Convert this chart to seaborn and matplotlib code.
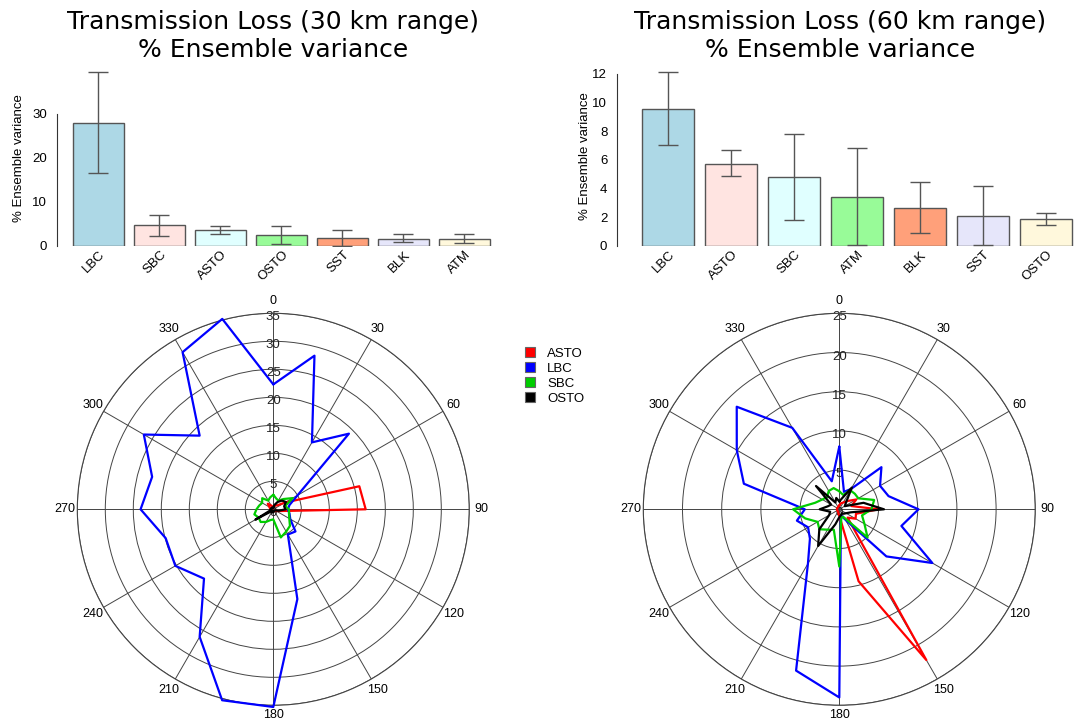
import numpy as np
import pandas as pd
import matplotlib
matplotlib.use("Agg")
import matplotlib.pyplot as plt
import matplotlib.transforms as mtransforms
from matplotlib.patches import Patch
import seaborn as sns

# ---------------- data ----------------
VARS30 = ['LBC', 'SBC', 'ASTO', 'OSTO', 'SST', 'BLK', 'ATM']
VAL30 = [28.0, 4.75, 3.55, 2.4, 1.75, 1.6, 1.5]
LO30 = [16.6, 2.2, 2.7, 0.4, 0.0, 0.8, 0.6]
HI30 = [39.5, 7.1, 4.6, 4.6, 3.55, 2.7, 2.7]

VARS60 = ['LBC', 'ASTO', 'SBC', 'ATM', 'BLK', 'SST', 'OSTO']
VAL60 = [9.56, 5.72, 4.77, 3.42, 2.65, 2.09, 1.86]
LO60 = [7.0, 4.88, 1.79, 0.05, 0.86, 0.05, 1.47]
HI60 = [12.1, 6.65, 7.77, 6.79, 4.44, 4.16, 2.28]

BAR_COLORS = ['lightblue', 'mistyrose', 'lightcyan', 'palegreen',
              'lightsalmon', 'lavender', 'cornsilk']

ANGLES = [0, 15, 30, 45, 60, 75, 90, 105, 120, 135, 150, 165,
          180, 195, 210, 225, 240, 255, 270, 285, 300, 315, 330, 345]

# 30 km range
ASTO30 = [0.4, 0.6, 0.8, 1.0, 2.4, 15.9, 16.5, 1.2, 0.6, 0.4, 0.3, 0.4,
          0.3, 0.3, 0.4, 0.5, 0.5, 0.4, 0.5, 0.6, 0.8, 1.4, 0.8, 0.5]
LBC30 = [22.3, 28.4, 13.8, 19.1, 5.0, 3.0, 2.6, 3.0, 3.5, 5.6, 5.2, 16.6,
         35.3, 35.3, 26.3, 17.5, 20.2, 19.9, 23.7, 22.4, 26.7, 18.6, 32.4, 35.2]
SBC30 = [2.6, 2.0, 1.8, 2.6, 4.0, 2.2, 2.8, 2.9, 3.3, 4.2, 4.6, 5.2,
         1.8, 2.0, 2.6, 3.2, 3.0, 3.5, 3.0, 2.6, 2.3, 2.8, 1.8, 2.2]
OSTO30 = [0.3, 0.8, 1.5, 2.2, 2.6, 2.0, 2.2, 1.0, 0.4, 0.3, 0.3, 0.4,
          0.5, 0.6, 0.3, 0.5, 3.7, 0.4, 0.5, 0.4, 0.3, 0.4, 0.3, 0.3]

# 60 km range
ASTO60 = [0.5, 0.8, 1.0, 1.5, 2.5, 1.6, 5.0, 2.2, 2.4, 1.5, 22.2, 9.5,
          0.8, 0.5, 0.3, 0.3, 0.3, 0.3, 0.3, 0.3, 0.3, 0.3, 0.3, 0.4]
LBC60 = [8.0, 2.3, 3.0, 7.6, 6.0, 6.5, 10.1, 8.2, 13.7, 8.5, 1.5, 0.8,
         24.0, 21.3, 8.0, 5.3, 4.6, 5.6, 4.4, 12.6, 15.1, 18.5, 12.0, 3.7]
SBC60 = [2.3, 1.9, 2.8, 2.8, 2.8, 4.6, 4.1, 3.0, 3.7, 5.1, 1.2, 1.0,
         7.3, 2.7, 3.0, 3.6, 3.2, 4.5, 5.9, 3.2, 2.5, 2.2, 2.7, 2.8]
OSTO60 = [1.0, 1.5, 3.2, 1.2, 0.8, 3.2, 5.7, 1.5, 1.0, 0.8, 0.6, 0.8,
          1.0, 2.0, 5.4, 3.6, 1.5, 1.2, 2.5, 1.5, 1.2, 4.2, 1.0, 1.5]

SERIES_NAMES = ['ASTO', 'LBC', 'SBC', 'OSTO']
SERIES_COLORS = ['#FF0000', '#0000FF', '#00CD00', '#000000']

# ---------------- style ----------------
sns.set_style("white")
plt.rcParams['font.family'] = ['Liberation Sans', 'DejaVu Sans']
for k in ['text.color', 'axes.labelcolor', 'xtick.color', 'ytick.color']:
    plt.rcParams[k] = 'black'

W, H = 1075, 719
fig = plt.figure(figsize=(W / 100, H / 100), dpi=100)


def px_axes(x0, y0, x1, y1, **kw):
    return fig.add_axes([x0 / W, 1 - y1 / H, (x1 - x0) / W, (y1 - y0) / H], **kw)


def bar_panel(ax, names, vals, lo, hi, xlim, ylim, yticks):
    df = pd.DataFrame({'var': names, 'val': vals})
    sns.barplot(data=df, x='var', y='val', hue='var', palette=BAR_COLORS,
                order=names, hue_order=names, width=0.83, saturation=1,
                edgecolor='#555555', linewidth=1.0, legend=False, ax=ax)
    v = np.asarray(vals)
    yerr = [v - np.asarray(lo), np.asarray(hi) - v]
    ax.errorbar(np.arange(len(names)), v, yerr=yerr, fmt='none',
                ecolor='#555555', elinewidth=1.0, capsize=7.5, capthick=1.0)
    ax.set_xlim(*xlim)
    ax.set_ylim(*ylim)
    ax.set_yticks(yticks)
    ax.set_yticklabels([str(t) for t in yticks], fontsize=9.5)
    for s in ['top', 'right', 'bottom']:
        ax.spines[s].set_visible(False)
    ax.spines['left'].set_bounds(yticks[0], yticks[-1])
    ax.spines['left'].set_color('#333333')
    ax.spines['left'].set_linewidth(0.8)
    ax.tick_params(axis='y', length=5, width=0.8, color='#333333', pad=2)
    ax.tick_params(axis='x', length=0, pad=2)
    offset = mtransforms.ScaledTranslation(9 / 100, 0, fig.dpi_scale_trans)
    for lab in ax.get_xticklabels():
        lab.set_rotation(45)
        lab.set_ha('right')
        lab.set_fontsize(9.5)
        lab.set_transform(lab.get_transform() + offset)
    ax.set_xlabel('')
    ax.set_ylabel('% Ensemble variance', fontsize=9.5)


# bar charts
ax1 = px_axes(57, 69.6, 501, 246)
bar_panel(ax1, VARS30, VAL30, LO30, HI30, (-0.679, 6.6), (0, 40), [0, 10, 20, 30])
ax1.yaxis.set_label_coords(-0.072, 0.5)

ax2 = px_axes(617, 66.5, 1074.3, 245.7)
bar_panel(ax2, VARS60, VAL60, LO60, HI60, (-0.808, 6.45), (0, 12.5),
          [0, 2, 4, 6, 8, 10, 12])
ax2.yaxis.set_label_coords(-0.057, 0.5)

# titles
fig.text(273 / W, 1 - 10 / H, 'Transmission Loss (30 km range)\n% Ensemble variance',
         ha='center', va='top', fontsize=18, family='DejaVu Sans', linespacing=1.2,
         color='black')
fig.text(840 / W, 1 - 10 / H, 'Transmission Loss (60 km range)\n% Ensemble variance',
         ha='center', va='top', fontsize=18, family='DejaVu Sans', linespacing=1.2,
         color='black')


def polar_panel(ax, series, rmax, rticks):
    ax.set_theta_zero_location('N')
    ax.set_theta_direction(-1)
    theta = np.deg2rad(np.append(ANGLES, ANGLES[0]))
    for name, col, vals in zip(SERIES_NAMES, SERIES_COLORS, series):
        r = np.append(vals, vals[0])
        df = pd.DataFrame({'theta': theta, 'r': r})
        sns.lineplot(data=df, x='theta', y='r', sort=False, estimator=None,
                     color=col, linewidth=1.6, ax=ax, zorder=3, clip_on=False)
    ax.set_ylim(0, rmax)
    ax.set_rticks(rticks)
    ax.set_yticklabels([])
    ax.set_thetagrids(list(range(0, 360, 30)),
                      [str(a) for a in range(0, 360, 30)], fontsize=9)
    ax.tick_params(axis='x', pad=-1.5)
    ax.grid(True, color='#444444', linewidth=0.7)
    ax.spines['polar'].set_color('#444444')
    ax.spines['polar'].set_linewidth(0.8)
    ax.set_xlabel('')
    ax.set_ylabel('')
    lift = mtransforms.ScaledTranslation(0, 3 / 100, fig.dpi_scale_trans)
    for lab in ax.get_xticklabels():
        if lab.get_text() == '180':
            lab.set_transform(lab.get_transform() + lift)
    for t in [0] + list(rticks):
        ax.annotate(str(t), xy=(0, t), xytext=(0, -4), textcoords='offset pixels',
                    ha='center', va='center', fontsize=9.5, color='#222222',
                    zorder=2)


ax3 = px_axes(77.3, 313.3, 469.3, 705.3, projection='polar')
polar_panel(ax3, [ASTO30, LBC30, SBC30, OSTO30], 35, [5, 10, 15, 20, 25, 30, 35])

ax4 = px_axes(643.3, 313.3, 1035.3, 705.3, projection='polar')
polar_panel(ax4, [ASTO60, LBC60, SBC60, OSTO60], 25, [5, 10, 15, 20, 25])

handles = [Patch(facecolor=c, edgecolor='#666666', linewidth=0.8, label=n)
           for n, c in zip(SERIES_NAMES, SERIES_COLORS)]
fig.legend(handles=handles, loc='upper left', bbox_to_anchor=(520 / W, 1 - 342 / H),
           frameon=False, fontsize=9.5, handlelength=0.75, handleheight=0.75,
           handletextpad=0.9, labelspacing=0.2, borderaxespad=0)

fig.savefig('out.png', dpi=100)
